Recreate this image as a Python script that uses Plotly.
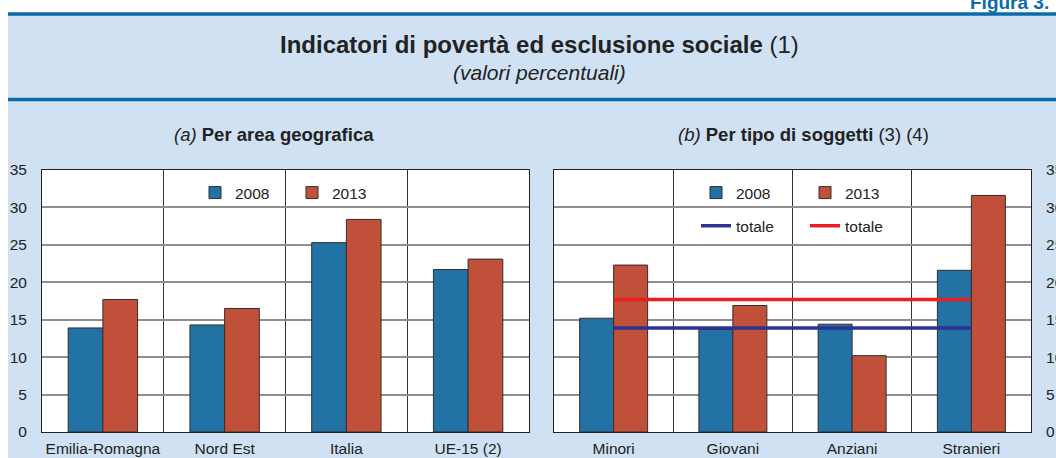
import plotly.graph_objects as go

# ---------------- data ----------------
cat_a = ["Emilia-Romagna", "Nord Est", "Italia", "UE-15 (2)"]
a_2008 = [13.9, 14.3, 25.3, 21.7]
a_2013 = [17.7, 16.5, 28.4, 23.1]

cat_b = ["Minori", "Giovani", "Anziani", "Stranieri"]
b_2008 = [15.2, 13.7, 14.4, 21.6]
b_2013 = [22.3, 16.9, 10.2, 31.6]

totale_2008 = 13.9
totale_2013 = 17.7

y_ticks = [0, 5, 10, 15, 20, 25, 30, 35]

# ---------------- style ----------------
W, H = 1056, 458
FONT = "Liberation Sans, Arial, Helvetica, sans-serif"
BLUE = "#2272A6"
RED = "#C0503A"
LBLUE = "#2E3192"
LRED = "#EE1D23"
BG = "#CFE1F2"
BAND = "#0A6BAA"
EDGE = "rgba(55,45,45,1)"
TS = 15.5


def px(v):
    return v / W


def py(v):
    return (H - v) / H


fig = go.Figure()

# left panel bars
fig.add_trace(go.Bar(x=cat_a, y=a_2008, name="2008", marker=dict(color=BLUE, line=dict(color=EDGE, width=1)),
                     xaxis="x", yaxis="y", legend="legend"))
fig.add_trace(go.Bar(x=cat_a, y=a_2013, name="2013", marker=dict(color=RED, line=dict(color=EDGE, width=1)),
                     xaxis="x", yaxis="y", legend="legend"))

# right panel bars
fig.add_trace(go.Bar(x=cat_b, y=b_2008, name="2008", marker=dict(color=BLUE, line=dict(color=EDGE, width=1)),
                     xaxis="x2", yaxis="y2", legend="legend2", legendgroup="g1"))
fig.add_trace(go.Bar(x=cat_b, y=b_2013, name="2013", marker=dict(color=RED, line=dict(color=EDGE, width=1)),
                     xaxis="x2", yaxis="y2", legend="legend3", legendgroup="g3"))
# totals
fig.add_trace(go.Scatter(x=cat_b, y=[totale_2008] * len(cat_b), name="totale", mode="lines",
                         line=dict(color=LBLUE, width=3.5), xaxis="x2", yaxis="y2",
                         legend="legend2", legendgroup="g2"))
fig.add_trace(go.Scatter(x=cat_b, y=[totale_2013] * len(cat_b), name="totale", mode="lines",
                         line=dict(color=LRED, width=3.5), xaxis="x2", yaxis="y2",
                         legend="legend3", legendgroup="g4"))

xcommon = dict(type="category", showline=True, mirror=True, linecolor="#222", linewidth=1,
               showgrid=True, gridcolor="#333", gridwidth=1, tickson="boundaries", ticks="",
               tickangle=0, ticklabelstandoff=2,
               tickfont=dict(size=TS, color="#222", family=FONT), automargin=False, zeroline=False,
               fixedrange=True)
ycommon = dict(range=[0, 35], tickvals=y_ticks, showline=True, mirror=True, linecolor="#222", linewidth=1,
               showgrid=True, gridcolor="#8f8f8f", gridwidth=1.5, ticks="", ticklabelstandoff=11,
               tickfont=dict(size=TS, color="#222", family=FONT), automargin=False, zeroline=False,
               fixedrange=True)

legend_common = dict(font=dict(size=TS, color="#222", family=FONT), borderwidth=0,
                     xanchor="left", yanchor="top", bgcolor="rgba(0,0,0,0)")

fig.update_layout(
    width=W, height=H,
    template="none",
    margin=dict(l=0, r=0, t=0, b=0),
    paper_bgcolor=BG,
    plot_bgcolor="white",
    font=dict(family=FONT, color="#222"),
    barmode="group", bargap=0.43, bargroupgap=0,
    xaxis=dict(domain=[px(42), px(529)], anchor="y", **xcommon),
    yaxis=dict(domain=[py(432), py(170)], anchor="x", side="left", **ycommon),
    xaxis2=dict(domain=[px(554), px(1031)], anchor="y2", **xcommon),
    yaxis2=dict(domain=[py(432), py(170)], anchor="x2", side="right", **ycommon),
    legend=dict(x=px(195), y=py(176), orientation="h",
                entrywidth=52, entrywidthmode="pixels", **legend_common),
    legend2=dict(x=px(696), y=py(176), orientation="v",
                 traceorder="grouped", tracegroupgap=10, **legend_common),
    legend3=dict(x=px(805), y=py(176), orientation="v",
                 traceorder="grouped", tracegroupgap=10, **legend_common),
    showlegend=True,
)

shapes = [
    # white strips outside the blue frame
    dict(type="rect", xref="paper", yref="paper", x0=0, x1=1, y0=py(13), y1=1.01,
         fillcolor="white", line=dict(width=0), layer="above"),
    dict(type="rect", xref="paper", yref="paper", x0=-0.01, x1=px(8), y0=-0.01, y1=1.01,
         fillcolor="white", line=dict(width=0), layer="above"),
    # blue rules
    dict(type="line", xref="paper", yref="paper", x0=px(8), x1=1, y0=py(14), y1=py(14),
         line=dict(color=BAND, width=3.5), layer="above"),
    dict(type="line", xref="paper", yref="paper", x0=px(8), x1=1, y0=py(99.5), y1=py(99.5),
         line=dict(color=BAND, width=3.5), layer="above"),
    # white boxes behind the in-plot legends
    dict(type="rect", xref="paper", yref="paper", x0=px(200), x1=px(365), y0=py(205), y1=py(178),
         fillcolor="white", line=dict(width=0), layer="between"),
    dict(type="rect", xref="paper", yref="paper", x0=px(690), x1=px(908), y0=py(243), y1=py(171),
         fillcolor="white", line=dict(width=0), layer="between"),
]
fig.update_layout(shapes=shapes)

annotations = [
    dict(text="<b>Figura 3.</b>", x=px(968), y=py(2), xanchor="left", yanchor="middle",
         font=dict(size=19, color=BAND, family=FONT)),
    dict(text="<b>Indicatori di povertà ed esclusione sociale</b> (1)", x=px(539), y=py(45),
         xanchor="center", yanchor="middle", font=dict(size=24, color="#222", family=FONT)),
    dict(text="<i>(valori percentuali)</i>", x=px(539), y=py(72), xanchor="center", yanchor="middle",
         font=dict(size=21, color="#222", family=FONT)),
    dict(text="<i>(a)</i> <b>Per area geografica</b>", x=px(274), y=py(134), xanchor="center",
         yanchor="middle", font=dict(size=18.5, color="#222", family=FONT)),
    dict(text="<i>(b)</i> <b>Per tipo di soggetti</b> (3) (4)", x=px(803), y=py(134), xanchor="center",
         yanchor="middle", font=dict(size=18.5, color="#222", family=FONT)),
]
for a in annotations:
    a.update(xref="paper", yref="paper", showarrow=False)
fig.update_layout(annotations=annotations)

fig.write_html("out.html", config={"displayModeBar": False},
               post_script="document.body.style.margin='0';")
